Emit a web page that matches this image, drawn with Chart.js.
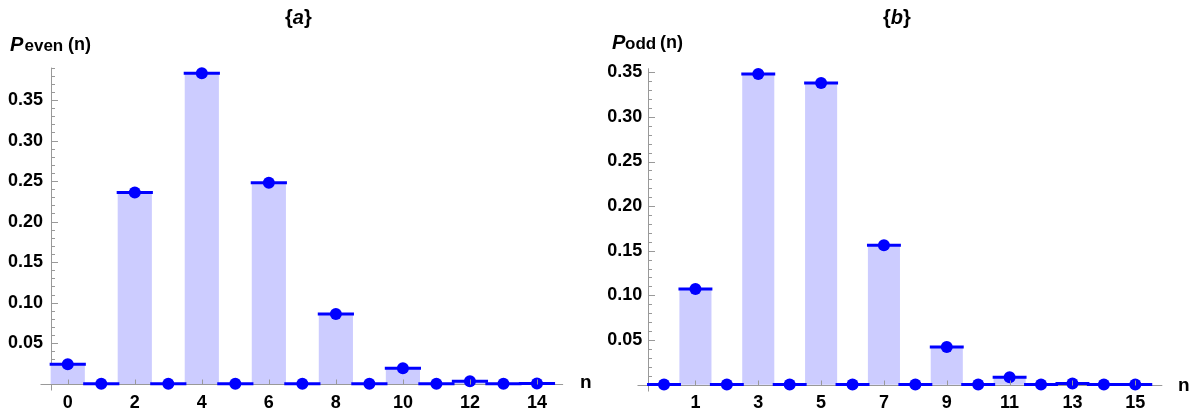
<!DOCTYPE html>
<html>
<head>
<meta charset="utf-8">
<script src="https://cdn.jsdelivr.net/npm/chart.js@4"></script>
<style>
  html, body { margin: 0; padding: 0; background: #fff; }
  #wrap { position: relative; width: 1200px; height: 417px; overflow: hidden; font-family: "Liberation Sans", Arial, sans-serif; color: #000; }
  canvas { position: absolute; top: 0; }
  .t { position: absolute; line-height: 1; font-weight: bold; white-space: nowrap; }
  .i { font-style: italic; }
</style>
</head>
<body>
<div id="wrap">
  <canvas id="cA" width="600" height="417" style="left:0px;width:600px;height:417px"></canvas>
  <canvas id="cB" width="600" height="417" style="left:600px;width:600px;height:417px"></canvas>

  <div class="t" style="left:285px;top:7px;font-size:20px">{<span class="i">a</span>}</div>
  <div class="t" style="left:883px;top:7px;font-size:20px">{<span class="i">b</span>}</div>

  <div class="t i" style="left:10px;top:33.8px;font-size:20px">P</div>
  <div class="t" style="left:24.5px;top:36.6px;font-size:17px">even</div>
  <div class="t" style="left:68px;top:34.8px;font-size:18px">(n)</div>

  <div class="t i" style="left:612px;top:32.4px;font-size:20px">P</div>
  <div class="t" style="left:625px;top:35.1px;font-size:17px">odd</div>
  <div class="t" style="left:660px;top:32.8px;font-size:18px">(n)</div>

  <div class="t" style="left:580px;top:372.2px;font-size:19px">n</div>
  <div class="t" style="left:1178px;top:374.6px;font-size:19px">n</div>
</div>
<script>
// ---- data ----
const nEven = [0,1,2,3,4,5,6,7,8,9,10,11,12,13,14];
const pEven = [0.024,0,0.236,0,0.383,0,0.248,0,0.086,0,0.019,0,0.003,0,0.0003];
const nOdd  = [0,1,2,3,4,5,6,7,8,9,10,11,12,13,14,15];
const pOdd  = [0,0.107,0,0.348,0,0.338,0,0.156,0,0.042,0,0.008,0,0.001,0,0.0001];

const xTicksEven = [0,2,4,6,8,10,12,14];
const xTicksOdd  = [1,3,5,7,9,11,13,15];
const yTicks     = [0.05,0.10,0.15,0.20,0.25,0.30,0.35];
const yMinorStep = 0.01;

const BLUE = '#0000ff';
const BAR  = '#ccccff';
const AXIS = '#999999';
const FONT = '"Liberation Sans", Arial, sans-serif';

const axesPlugin = {
  id: 'mmaAxes',
  beforeDatasetsDraw(chart, args, opts) {
    const {ctx, chartArea: a, scales: {x, y}} = chart;
    const y0 = Math.round(y.getPixelForValue(0)) + 0.5;
    const xl = Math.round(a.left) + 0.5;
    ctx.save();
    ctx.strokeStyle = AXIS;
    ctx.lineWidth = 1;
    ctx.beginPath();
    ctx.moveTo(xl - 11, y0); ctx.lineTo(a.right, y0);
    ctx.moveTo(xl, a.top); ctx.lineTo(xl, y0 + 6);
    const nMinor = Math.floor(y.max / yMinorStep + 1e-9);
    for (let k = 1; k <= nMinor; k++) {
      const v = k * yMinorStep;
      const major = yTicks.some(t => Math.abs(t - v) < 1e-9);
      const py = Math.round(y.getPixelForValue(v)) + 0.5;
      ctx.moveTo(xl, py); ctx.lineTo(xl + (major ? 6.5 : 3.5), py);
    }
    const labeled = opts.labeled || [];
    for (let n = 0; n <= Math.floor(x.max); n++) {
      if (labeled.includes(n)) continue;
      const px = Math.round(x.getPixelForValue(n)) + 0.5;
      ctx.moveTo(px, y0); ctx.lineTo(px, y0 - 3);
    }
    ctx.stroke();
    ctx.restore();
  },
  afterDatasetsDraw(chart, args, opts) {
    const {ctx, scales: {x, y}} = chart;
    const y0 = Math.round(y.getPixelForValue(0)) + 0.5;
    ctx.save();
    ctx.strokeStyle = AXIS;
    ctx.lineWidth = 1;
    ctx.beginPath();
    (opts.labeled || []).forEach(n => {
      const px = Math.round(x.getPixelForValue(n)) + 0.5;
      ctx.moveTo(px, y0); ctx.lineTo(px, y0 - 5);
    });
    ctx.stroke();
    ctx.restore();
  }
};

function makeChart(id, ns, ps, xTicks, cfg) {
  const pts = ns.map((n, i) => ({x: n, y: ps[i]}));
  const halfLen = (ctx) => {
    const s = ctx.chart.scales.x;
    const w = Math.abs(s.getPixelForValue(1) - s.getPixelForValue(0));
    return isFinite(w) ? w * 0.54 : 16;
  };
  return new Chart(document.getElementById(id), {
    type: 'bar',
    data: {
      datasets: [
        { type: 'scatter', data: pts, order: 0, clip: false,
          pointRadius: 6, pointHoverRadius: 6, pointBackgroundColor: BLUE, pointBorderWidth: 0 },
        { type: 'scatter', data: pts, order: 1, clip: false,
          pointStyle: 'line', pointRadius: halfLen, pointHoverRadius: halfLen,
          pointBorderColor: BLUE, pointBorderWidth: 3, pointHoverBorderWidth: 3 },
        { type: 'bar', data: pts, order: 2, clip: false,
          backgroundColor: BAR, borderWidth: 0, barPercentage: 1, categoryPercentage: 1 }
      ]
    },
    options: {
      responsive: false,
      devicePixelRatio: 1,
      animation: false,
      events: [],
      layout: { padding: { top: cfg.top, right: cfg.right, bottom: 0, left: 0 } },
      plugins: { legend: { display: false }, tooltip: { enabled: false }, title: { display: false },
                 mmaAxes: { labeled: xTicks } },
      scales: {
        x: {
          type: 'linear', offset: false, min: -0.5, max: cfg.xmax,
          grid: { display: false, drawTicks: false }, border: { display: false },
          afterBuildTicks: s => { s.ticks = xTicks.map(v => ({value: v})); },
          afterFit: s => { s.height = cfg.xh; },
          ticks: { autoSkip: false, maxRotation: 0, padding: cfg.xpad, color: '#000',
                   font: { family: FONT, size: 18, weight: 'bold' },
                   callback: v => String(v) }
        },
        y: {
          type: 'linear', min: 0, max: cfg.ymax,
          grid: { display: false, drawTicks: false }, border: { display: false },
          afterBuildTicks: s => { s.ticks = yTicks.map(v => ({value: v})); },
          afterFit: s => { s.width = cfg.yw; },
          ticks: { padding: cfg.ypad, color: '#000',
                   font: { family: FONT, size: 18, weight: 'bold' },
                   callback: v => Number(v).toFixed(2) }
        }
      }
    },
    plugins: [axesPlugin]
  });
}

makeChart('cA', nEven, pEven, xTicksEven,
  { top: 67.6, right: 36.9, xh: 33.3, yw: 51, xmax: 14.78, ymax: 0.39, xpad: 9, ypad: 8 });
makeChart('cB', nOdd, pOdd, xTicksOdd,
  { top: 68.3, right: 37.7, xh: 32.5, yw: 48.3, xmax: 15.86, ymax: 0.3545, xpad: 8, ypad: 6 });
</script>
</body>
</html>
